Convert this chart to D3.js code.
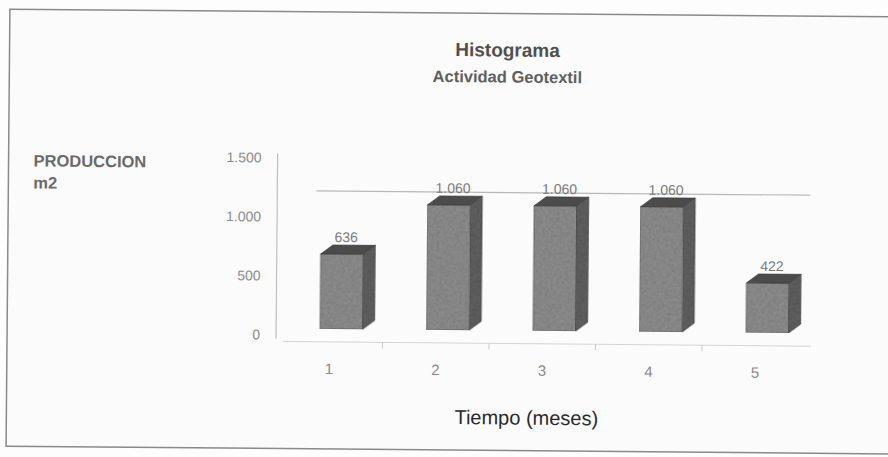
<!DOCTYPE html>
<html>
<head>
<meta charset="utf-8">
<script src="https://cdn.jsdelivr.net/npm/d3@7"></script>
<style>
  body { margin: 0; background: #fdfdfd; }
  svg text { font-family: "Liberation Sans", sans-serif; }
</style>
</head>
<body>
<div id="chart"></div>
<script>
const width = 888;
const height = 457;

// data
const meses = ["1", "2", "3", "4", "5"];
const produccion = [636, 1060, 1060, 1060, 422];
const valueLabels = ["636", "1.060", "1.060", "1.060", "422"];
const yTicks = [0, 500, 1000, 1500];
const yTickLabels = ["0", "500", "1.000", "1.500"];

const depthX = 12, depthY = -9;

const svg = d3.select("#chart")
  .append("svg")
  .attr("width", width)
  .attr("height", height);

// granite-like texture for the bar faces
const filter = svg.append("defs").append("filter")
  .attr("id", "grain")
  .attr("x", 0).attr("y", 0).attr("width", 1).attr("height", 1);
filter.append("feTurbulence")
  .attr("type", "fractalNoise")
  .attr("baseFrequency", 0.35)
  .attr("numOctaves", 2)
  .attr("seed", 3)
  .attr("result", "noise");
filter.append("feColorMatrix")
  .attr("in", "noise")
  .attr("type", "matrix")
  .attr("values", "0 0 0 0 0  0 0 0 0 0  0 0 0 0 0  0 0 0 0.35 -0.1")
  .attr("result", "dark");
filter.append("feComposite")
  .attr("in", "dark").attr("in2", "SourceGraphic")
  .attr("operator", "in").attr("result", "darkIn");
filter.append("feMerge").call((m) => {
  m.append("feMergeNode").attr("in", "SourceGraphic");
  m.append("feMergeNode").attr("in", "darkIn");
});

// the scan is a tiny bit rotated
const g = svg.append("g").attr("transform", "rotate(0.5,444,228)");

// frame
g.append("rect")
  .attr("x", 8).attr("y", 13)
  .attr("width", 900).attr("height", 437)
  .attr("fill", "#fbfbfb")
  .attr("stroke", "#8a8a8a")
  .attr("stroke-width", 1.5);

const x = d3.scaleBand()
  .domain(meses)
  .range([289, 821.5])
  .paddingInner(0.6)
  .paddingOuter(0.3);

const y = d3.scaleLinear()
  .domain([0, 1500])
  .range([330, 153]);

// titles
g.append("text")
  .attr("x", 506).attr("y", 56)
  .attr("text-anchor", "middle")
  .attr("font-size", 19)
  .attr("font-weight", "bold")
  .attr("fill", "#505050")
  .text("Histograma");
g.append("text")
  .attr("x", 506).attr("y", 82)
  .attr("text-anchor", "middle")
  .attr("font-size", 16.5)
  .attr("font-weight", "bold")
  .attr("fill", "#606060")
  .text("Actividad Geotextil");

// y axis title
g.append("text")
  .attr("x", 33).attr("y", 170)
  .attr("font-size", 16.5)
  .attr("font-weight", "bold")
  .attr("fill", "#6a6a6a")
  .text("PRODUCCION");
g.append("text")
  .attr("x", 33).attr("y", 192)
  .attr("font-size", 16.5)
  .attr("font-weight", "bold")
  .attr("fill", "#6a6a6a")
  .text("m2");

// back wall gridline at 1000
g.append("line")
  .attr("x1", 316).attr("x2", 810)
  .attr("y1", y(1000) - 20).attr("y2", y(1000) - 20)
  .attr("stroke", "#b8b8b8").attr("stroke-width", 1.2);

// y axis
g.append("line")
  .attr("x1", 277).attr("x2", 277)
  .attr("y1", y(1500) + 2).attr("y2", y(0) + 10)
  .attr("stroke", "#c0c0c0").attr("stroke-width", 1.2);

g.append("g")
  .selectAll("text")
  .data(yTicks)
  .enter()
  .append("text")
  .attr("x", 261)
  .attr("y", (d) => y(d) + 11)
  .attr("text-anchor", "end")
  .attr("font-family", "DejaVu Sans")
  .attr("font-size", 14)
  .attr("fill", "#8c8c8c")
  .text((d, i) => yTickLabels[i]);

// floor line with category ticks
g.append("line")
  .attr("x1", 284).attr("x2", 812)
  .attr("y1", y(0) + 13).attr("y2", y(0) + 13)
  .attr("stroke", "#d4d4d4").attr("stroke-width", 1);

g.append("g")
  .selectAll("line")
  .data(meses.slice(0, 4))
  .enter()
  .append("line")
  .attr("x1", (d) => x(d) + x.bandwidth() + (x.step() - x.bandwidth()) / 2 - depthX)
  .attr("x2", (d) => x(d) + x.bandwidth() + (x.step() - x.bandwidth()) / 2 - depthX)
  .attr("y1", y(0) + 13).attr("y2", y(0) + 19)
  .attr("stroke", "#c8c8c8");

// category labels
g.append("g")
  .selectAll("text")
  .data(meses)
  .enter()
  .append("text")
  .attr("x", (d) => x(d) + x.bandwidth() / 2 - 12)
  .attr("y", y(0) + 45)
  .attr("text-anchor", "middle")
  .attr("font-family", "DejaVu Serif")
  .attr("font-size", 15)
  .attr("fill", "#8a8a8a")
  .text((d) => d);

g.append("text")
  .attr("x", 528).attr("y", 424)
  .attr("text-anchor", "middle")
  .attr("font-size", 20)
  .attr("fill", "#2a2a2a")
  .text("Tiempo (meses)");

// 3D bars
const bars = g.append("g")
  .selectAll("g")
  .data(produccion)
  .enter()
  .append("g");

bars.append("rect")
  .attr("x", (d, i) => x(meses[i]))
  .attr("y", (d) => y(d))
  .attr("width", x.bandwidth())
  .attr("height", (d) => y(0) - y(d))
  .attr("fill", "#8a8a8a")
  .attr("filter", "url(#grain)")
  .attr("stroke", "#4a4a4a").attr("stroke-width", 0.6);

bars.append("polygon")
  .attr("points", (d, i) => {
    const x0 = x(meses[i]) + x.bandwidth();
    return [[x0, y(d)], [x0 + depthX, y(d) + depthY], [x0 + depthX, y(0) + depthY], [x0, y(0)]].join(" ");
  })
  .attr("fill", "#5e5e5e")
  .attr("filter", "url(#grain)")
  .attr("stroke", "#3e3e3e").attr("stroke-width", 0.6);

bars.append("polygon")
  .attr("points", (d, i) => {
    const x0 = x(meses[i]);
    const x1 = x0 + x.bandwidth();
    return [[x0, y(d)], [x0 + depthX, y(d) + depthY], [x1 + depthX, y(d) + depthY], [x1, y(d)]].join(" ");
  })
  .attr("fill", "#4b4b4b")
  .attr("stroke", "#333").attr("stroke-width", 0.6);

// value labels
bars.append("text")
  .attr("x", (d, i) => x(meses[i]) + x.bandwidth() / 2 + depthX / 2 - 2)
  .attr("y", (d) => y(d) + depthY - 3)
  .attr("text-anchor", "middle")
  .attr("font-family", "DejaVu Sans")
  .attr("font-size", 14)
  .attr("fill", "#7a7a7a")
  .text((d, i) => valueLabels[i]);
</script>
</body>
</html>
